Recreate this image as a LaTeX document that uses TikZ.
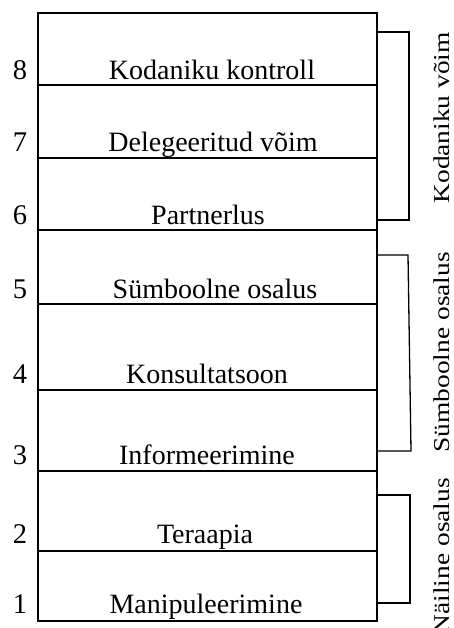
\documentclass[tikz,border=0pt]{standalone}
\usepackage{fontspec}
\setmainfont{Liberation Serif}
\usetikzlibrary{arrows,shapes}
\tikzstyle{rung}=[line width=1.4pt]
\tikzstyle{brace}=[line width=1.3pt]
\tikzstyle{stair}=[anchor=base,inner sep=0pt,font=\fontsize{28}{30}\selectfont]
\tikzstyle{lvl}=[anchor=base,inner sep=0pt,font=\fontsize{28.5}{30}\selectfont]
\tikzstyle{grp}=[anchor=base east,rotate=90,inner sep=0pt,font=\fontsize{27.4}{30}\selectfont]

\begin{document}
\begin{tikzpicture}[x=1pt,y=-1pt]
\useasboundingbox (0,0) rectangle (453,628);
% ladder
\draw[rung] (38,13) rectangle (377,621);
\draw[rung] (38,85)--(377,85);\draw[rung] (38,158)--(377,158);\draw[rung] (38,230)--(377,230);
\draw[rung] (38,304)--(377,304);\draw[rung] (38,390)--(377,390);\draw[rung] (38,471)--(377,471);
\draw[rung] (38,551)--(377,551);
% rungs
\node[lvl] (n8) at (20,80) {8};\node[stair] (s8) at (212,80) {Kodaniku kontroll};
\node[lvl] (n7) at (20,152) {7};\node[stair] (s7) at (213,152) {Delegeeritud võim};
\node[lvl] (n6) at (20,224) {6};\node[stair] (s6) at (208,224) {Partnerlus};
\node[lvl] (n5) at (20,298) {5};\node[stair] (s5) at (215,298) {Sümboolne osalus};
\node[lvl] (n4) at (20,383) {4};\node[stair] (s4) at (207,383) {Konsultatsoon};
\node[lvl] (n3) at (20,464) {3};\node[stair] (s3) at (207,464) {Informeerimine};
\node[lvl] (n2) at (20,543) {2};\node[stair] (s2) at (205,543) {Teraapia};
\node[lvl] (n1) at (20,613) {1};\node[stair] (s1) at (206,613) {Manipuleerimine};
% brackets
\coordinate (Ka) at (377,32);\coordinate (Kb) at (409,32);\coordinate (Kc) at (409,220);\coordinate (Kd) at (377,220);
\coordinate (Sa) at (377,255);\coordinate (Sb) at (408,255);\coordinate (Sc) at (411,451);\coordinate (Sd) at (377,451);
\coordinate (Na) at (377,495);\coordinate (Nb) at (410,495);\coordinate (Nc) at (410,603);\coordinate (Nd) at (377,603);
\draw[brace] (Ka)--(Kb)--(Kc)--(Kd);
\draw[brace] (Sa)--(Sb)--(Sc)--(Sd);
\draw[brace] (Na)--(Nb)--(Nc)--(Nd);
\node[grp] (Kv) at (449,32) {\scalebox{1}[0.83]{Kodaniku võim}};
\node[grp] (So) at (449,252) {\scalebox{1}[0.83]{Sümboolne osalus}};
\node[grp] (No) at (449,478) {\scalebox{1}[0.83]{Näiline osalus}};
\end{tikzpicture}
\end{document}
